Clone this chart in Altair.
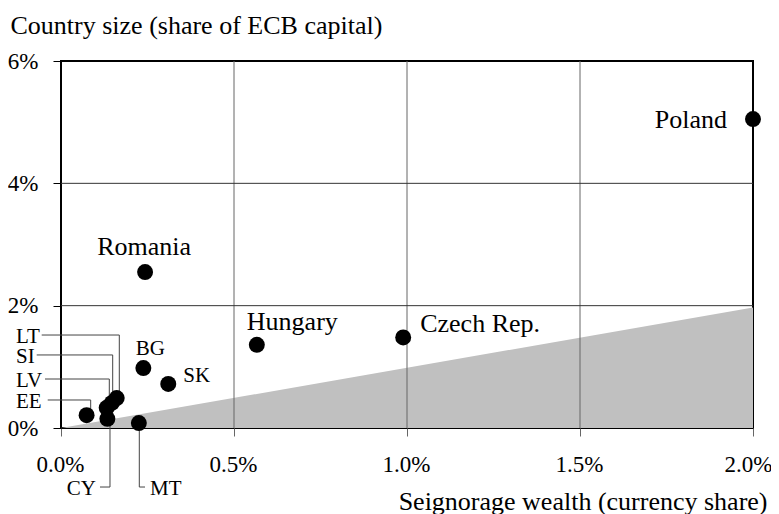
import altair as alt
import pandas as pd

# ---- data ----
countries = ["Poland", "Romania", "Hungary", "Czech Rep.", "BG", "SK",
             "MT", "EE", "CY", "LV", "SI", "LT"]
currency_share = [2.0, 0.243, 0.566, 0.989, 0.238, 0.310,
                  0.225, 0.074, 0.134, 0.132, 0.147, 0.161]
ecb_capital = [5.05, 2.55, 1.36, 1.48, 0.98, 0.72,
               0.08, 0.21, 0.15, 0.33, 0.41, 0.49]

# shaded region (boundary line)
threshold_x = [0.0, 2.0]
threshold_y = [0.0, 1.97]

x_ticks = [0.0, 0.5, 1.0, 1.5, 2.0]
y_ticks = [0, 2, 4, 6]
x_grid = [0.5, 1.0, 1.5]
y_grid = [2, 4]

# direct labels next to their dots: name, align, dx, dy, size
direct_labels = ["Poland", "Romania", "Hungary", "Czech Rep.", "BG", "SK"]
direct_align = ["right", "center", "left", "left", "center", "left"]
direct_dx = [-26, -1, -10, 17, 7, 15]
direct_dy = [9, -17, -15, -5, -13, -2]
direct_size = [26, 26, 26, 26, 21, 21]

# leader-line labels (positions in data units)
leader_names = ["LT", "SI", "LV", "EE", "CY", "MT"]
leader_label_y = [1.52, 1.194, 0.801, 0.458, -0.965, -0.965]
leader_start_x = [-0.0558, -0.0702, -0.0462, -0.0384, 0.1127, 0.2428]
leader_elbow_x = [0.1685, 0.1494, 0.1396, 0.0858, 0.1416, 0.2263]
leader_text_x = [-0.130, -0.130, -0.130, -0.130, 0.1127, 0.2428]
leader_align = ["left", "left", "left", "left", "right", "left"]
leader_dx = [0, 0, 0, 0, -4, 5]

FONT = "Liberation Serif"

pts = pd.DataFrame({"name": countries, "x": currency_share, "y": ecb_capital})
dot_y = dict(zip(countries, ecb_capital))
lead = pd.DataFrame({
    "name": leader_names,
    "ly": leader_label_y,
    "sx": leader_start_x,
    "ex": leader_elbow_x,
    "tx": leader_text_x,
    "dy_": [dot_y[n] for n in leader_names],
})
area_df = pd.DataFrame({"x": threshold_x, "y": threshold_y})

xs = alt.Scale(domain=[0, 2], nice=False, zero=False)
ys = alt.Scale(domain=[0, 6], nice=False, zero=False)

area = alt.Chart(area_df).mark_area(color="#c0c0c0", opacity=1).encode(
    x=alt.X("x:Q", scale=xs, axis=alt.Axis(
        values=x_ticks, grid=False, domain=False, labelFlush=False,
        labelExpr="format(datum.value, '.1f') + '%'",
        labelOffset={"condition": {"test": "datum.value >= 2", "value": -5}, "value": -1},
        labelFontSize=23, labelColor="black", labelPadding=17,
        tickSize=8, tickColor="#666666", tickWidth=1,
        title="Seignorage wealth (currency share)",
        titleFontSize=26, titleFontWeight="normal", titleColor="black",
        titleAlign="right", titleBaseline="alphabetic", titleX=706, titleY=81,
    )),
    y=alt.Y("y:Q", scale=ys, axis=alt.Axis(
        values=y_ticks, grid=False, domain=False, labelFlush=False,
        labelExpr="datum.value + '%'",
        labelFontSize=23, labelColor="black", labelPadding=15,
        tickSize=8, tickColor="black", tickWidth=1,
        title="Country size (share of ECB capital)",
        titleFontSize=26, titleFontWeight="normal", titleColor="black",
        titleAngle=0, titleAlign="left", titleBaseline="alphabetic",
        titleX=-51, titleY=-28,
    )),
    y2=alt.datum(0),
)

vgrid = alt.Chart(pd.DataFrame({"x": x_grid})).mark_rule(
    color="#666666", strokeWidth=1).encode(x=alt.X("x:Q", scale=xs))
hgrid = alt.Chart(pd.DataFrame({"y": y_grid})).mark_rule(
    color="#333333", strokeWidth=1).encode(y=alt.Y("y:Q", scale=ys))

hlead = alt.Chart(lead).mark_rule(color="#444444", strokeWidth=1).encode(
    x=alt.X("sx:Q", scale=xs), x2="ex:Q",
    y=alt.Y("ly:Q", scale=ys))
vlead = alt.Chart(lead).mark_rule(color="#444444", strokeWidth=1).encode(
    x=alt.X("ex:Q", scale=xs),
    y=alt.Y("ly:Q", scale=ys), y2="dy_:Q")

dots = alt.Chart(pts).mark_circle(color="black", opacity=1, size=255).encode(
    x=alt.X("x:Q", scale=xs),
    y=alt.Y("y:Q", scale=ys))

layers = [area, vgrid, hgrid, hlead, vlead, dots]

for n, a, dx, dy, fs in zip(direct_labels, direct_align, direct_dx, direct_dy, direct_size):
    layers.append(
        alt.Chart(pts).transform_filter(alt.datum.name == n).mark_text(
            align=a, baseline="alphabetic", dx=dx, dy=dy,
            fontSize=fs, color="black").encode(
            x=alt.X("x:Q", scale=xs),
            y=alt.Y("y:Q", scale=ys),
            text="name:N"))

for n, a, dx in zip(leader_names, leader_align, leader_dx):
    layers.append(
        alt.Chart(lead).transform_filter(alt.datum.name == n).mark_text(
            align=a, baseline="middle", dx=dx, dy=2,
            fontSize=21, color="black").encode(
            x=alt.X("tx:Q", scale=xs),
            y=alt.Y("ly:Q", scale=ys),
            text="name:N"))

chart = alt.layer(*layers).properties(
    width=692, height=367,
    background="white",
    autosize=alt.AutoSizeParams(type="none"),
    padding={"left": 53, "top": 53, "right": 18, "bottom": 86},
).configure_view(stroke="black", strokeWidth=2).configure_text(
    font=FONT).configure_axis(labelFont=FONT, titleFont=FONT)

chart.save("out.html", embed_options={"renderer": "svg", "actions": False})
